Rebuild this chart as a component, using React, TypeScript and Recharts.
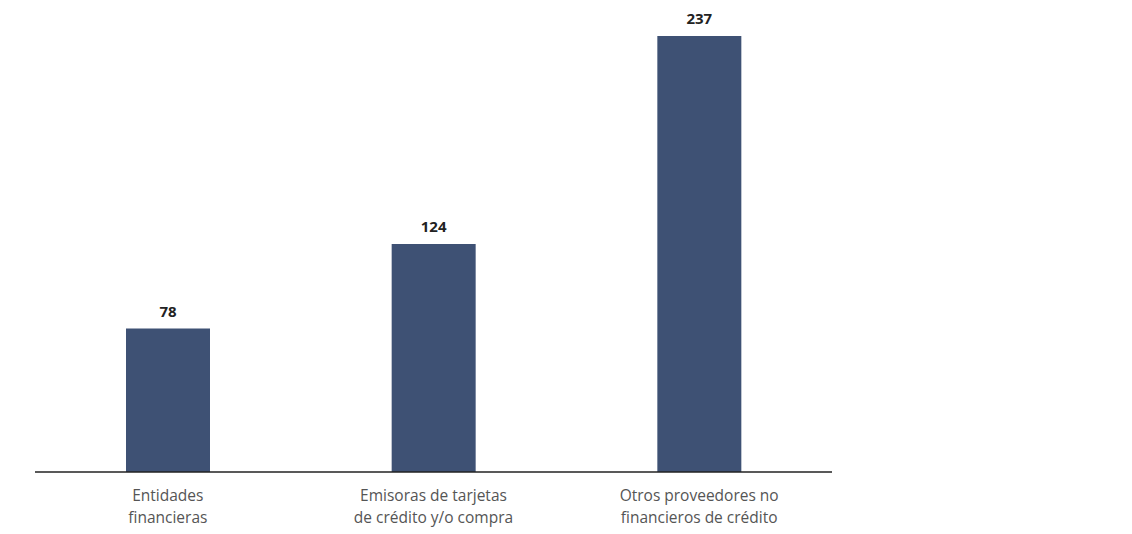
import { BarChart, Bar, XAxis, YAxis, LabelList } from "recharts"

const categories = [
  "Entidades|financieras",
  "Emisoras de tarjetas|de crédito y/o compra",
  "Otros proveedores no|financieros de crédito",
]
const values = [78, 124, 237]

const data = categories.map((name, i) => ({ name, value: values[i] }))

function TwoLineTick(props: any) {
  const { x, y, payload } = props
  const lines = String(payload.value).split("|")
  return (
    <text
      x={x}
      y={y}
      textAnchor="middle"
      fill="#555"
      fontSize={15.5}
      fontFamily="'Open Sans', sans-serif"
    >
      {lines.map((l, i) => (
        <tspan key={i} x={x} dy={i === 0 ? 21 : 22}>
          {l}
        </tspan>
      ))}
    </text>
  )
}

export default function App() {
  return (
    <div style={{ position: "absolute", left: 0, top: 0, background: "#fff" }}>
      <BarChart
        width={1132}
        height={534}
        data={data}
        margin={{ top: 36, right: 300, bottom: 0, left: 35 }}
      >
        <XAxis
          dataKey="name"
          axisLine={{ stroke: "#222", strokeWidth: 1.5 }}
          tickLine={false}
          tick={<TwoLineTick />}
          interval={0}
          height={62}
        />
        <YAxis hide domain={[0, 237]} />
        <Bar dataKey="value" fill="#3E5174" barSize={84} isAnimationActive={false}>
          <LabelList
            dataKey="value"
            position="top"
            offset={12}
            fill="#222"
            fontSize={15}
            fontWeight="bold"
            fontFamily="'Open Sans', sans-serif"
          />
        </Bar>
      </BarChart>
    </div>
  )
}
